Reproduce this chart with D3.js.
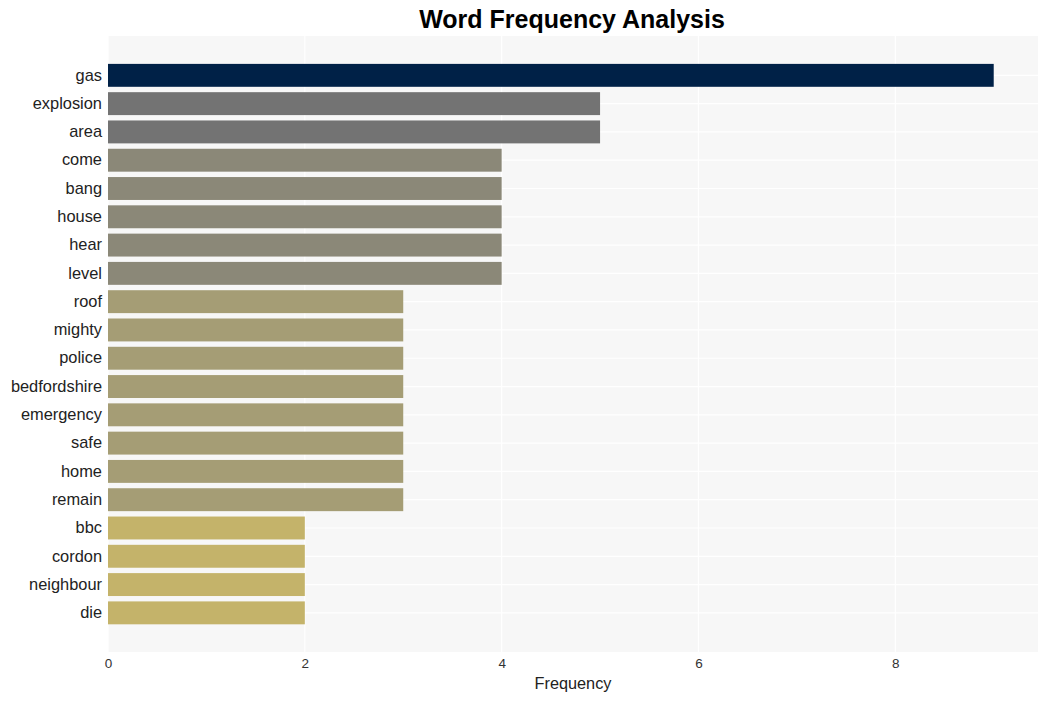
<!DOCTYPE html>
<html><head><meta charset="utf-8">
<script src="https://cdn.jsdelivr.net/npm/d3@7"></script>
<style>body{margin:0;background:#fff;}svg{display:block;font-family:"Liberation Sans",Arial,sans-serif;}</style>
</head><body>
<svg id="c" width="1047" height="701"></svg>
<script>
const words = ["gas","explosion","area","come","bang","house","hear","level","roof","mighty","police","bedfordshire","emergency","safe","home","remain","bbc","cordon","neighbour","die"];
const counts = [9,5,5,4,4,4,4,4,3,3,3,3,3,3,3,3,2,2,2,2];
const colorByCount = {9:"#002147",5:"#737373",4:"#8b8878",3:"#a59d75",2:"#c4b36a"};
const xTicks = [0,2,4,6,8];

const svg = d3.select("#c");
const panel = {left:108, right:1038, top:36, bottom:652};
const x = d3.scaleLinear().domain([0,9.45]).range([panel.left, panel.right]);
const y = d3.scaleBand().domain(words).range([61.2, 627]).paddingInner(0.19).paddingOuter(0.095);

svg.append("rect").attr("x",panel.left).attr("y",panel.top).attr("width",panel.right-panel.left).attr("height",panel.bottom-panel.top).attr("fill","#f7f7f7");

// gridlines
svg.append("g").selectAll("line").data(xTicks).join("line")
  .attr("x1",d=>x(d)).attr("x2",d=>x(d)).attr("y1",panel.top).attr("y2",panel.bottom)
  .attr("stroke","#fff").attr("stroke-width",1.2);
svg.append("g").selectAll("line").data(words).join("line")
  .attr("x1",panel.left).attr("x2",panel.right)
  .attr("y1",d=>y(d)+y.bandwidth()/2).attr("y2",d=>y(d)+y.bandwidth()/2)
  .attr("stroke","#fff").attr("stroke-width",1.2);

// bars
svg.append("g").selectAll("rect").data(words).join("rect")
  .attr("x",x(0)).attr("y",d=>y(d))
  .attr("width",(d,i)=>x(counts[i])-x(0)).attr("height",y.bandwidth())
  .attr("fill",(d,i)=>colorByCount[counts[i]]);

// axes
const xAxis = svg.append("g").attr("transform",`translate(0,${panel.bottom})`)
  .call(d3.axisBottom(x).tickValues(xTicks).tickSize(0).tickPadding(6));
xAxis.select(".domain").remove();
xAxis.attr("font-size",13.5);
xAxis.selectAll("text").attr("font-size",13.5).attr("fill","#333").attr("font-family","Liberation Sans, Arial, sans-serif");

const yAxis = svg.append("g").attr("transform",`translate(${panel.left},0)`)
  .call(d3.axisLeft(y).tickSize(0).tickPadding(6));
yAxis.select(".domain").remove();
yAxis.selectAll("text").attr("font-size",16.4).attr("fill","#222").attr("font-family","Liberation Sans, Arial, sans-serif");

svg.append("text").attr("x",(panel.left+panel.right)/2).attr("y",689).attr("text-anchor","middle")
  .attr("font-size",16.3).attr("fill","#222").text("Frequency");
svg.append("text").attr("x",572).attr("y",28).attr("text-anchor","middle")
  .attr("font-size",25).attr("font-weight","bold").attr("fill","#000").text("Word Frequency Analysis");
</script>
</body></html>
